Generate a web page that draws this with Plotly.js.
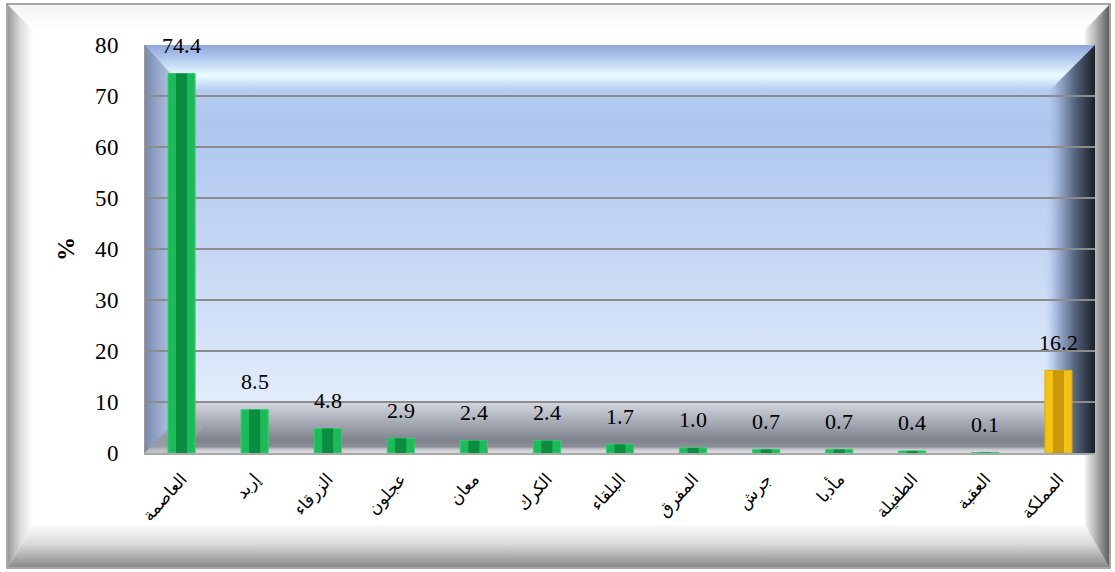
<!DOCTYPE html>
<html>
<head>
<meta charset="utf-8">
<script src="https://cdn.plot.ly/plotly-3.0.1.min.js"></script>
<style>
@font-face { font-family: "ChartSerif"; font-weight: 400;
  src: local("Liberation Serif"), local("LiberationSerif"), local("LiberationSerif-Regular"), local("Times New Roman"), local("DejaVu Serif"), local("DejaVuSerif"); }
@font-face { font-family: "ChartSerif"; font-weight: 700;
  src: local("Liberation Serif Bold"), local("LiberationSerif-Bold"), local("Times New Roman Bold"), local("DejaVu Serif Bold"), local("DejaVuSerif-Bold"); }
html,body{margin:0;padding:0;background:#fff;}
#wrap{position:relative;width:1115px;height:572px;overflow:hidden;}
#frame{position:absolute;left:0;top:0;}
#chart{position:absolute;left:0;top:0;width:1115px;height:572px;}
</style>
</head>
<body>
<div id="wrap">
<svg id="frame" width="1115" height="572" xmlns="http://www.w3.org/2000/svg">
  <defs>
    <linearGradient id="gL" x1="0" y1="0" x2="1" y2="0">
      <stop offset="0" stop-color="#9a9a9a"/><stop offset="0.5" stop-color="#dcdcdc"/><stop offset="1" stop-color="#ffffff"/>
    </linearGradient>
    <linearGradient id="gT" x1="0" y1="0" x2="0" y2="1">
      <stop offset="0" stop-color="#f4f4f4"/><stop offset="1" stop-color="#ffffff"/>
    </linearGradient>
    <linearGradient id="gR" x1="0" y1="0" x2="1" y2="0">
      <stop offset="0" stop-color="#f2f2f2"/><stop offset="0.45" stop-color="#b4b4b4"/><stop offset="1" stop-color="#5e5e5e"/>
    </linearGradient>
    <linearGradient id="gB" x1="0" y1="0" x2="0" y2="1">
      <stop offset="0" stop-color="#fbfbfb"/><stop offset="0.45" stop-color="#dadada"/><stop offset="1" stop-color="#8a8a8a"/>
    </linearGradient>
  </defs>
  <rect x="7" y="4" width="1103" height="564" fill="#ffffff" stroke="#8a8a8a" stroke-width="1.5"/>
  <polygon points="8,5 1109,5 1085,30 33,30" fill="url(#gT)"/>
  <polygon points="8,5 33,30 33,525 8,567" fill="url(#gL)"/>
  <polygon points="8,567 33,525 1085,525 1109,567" fill="url(#gB)"/>
  <polygon points="1109,5 1109,567 1085,525 1085,30" fill="url(#gR)"/>
</svg>
<div id="chart"></div>
</div>
<script>
// ---- data ----
var categories = ["العاصمة","إربد","الزرقاء","عجلون","معان","الكرك","البلقاء","المفرق","جرش","مأدبا","الطفيلة","العقبة","المملكة"];
var values = [74.4, 8.5, 4.8, 2.9, 2.4, 2.4, 1.7, 1.0, 0.7, 0.7, 0.4, 0.1, 16.2];
var yTicks = [0, 10, 20, 30, 40, 50, 60, 70, 80];
var yTitle = "%";

// ---- styles ----
var lightCol = categories.map(function(c, i){ return i === categories.length - 1 ? "#f3c212" : "#1cba58"; });
var darkCol  = categories.map(function(c, i){ return i === categories.length - 1 ? "#c9990b" : "#0b8c41"; });
var edgeCol  = categories.map(function(c, i){ return i === categories.length - 1 ? "#e0aa08" : "#2fcf70"; });

var W = 950, H = 408;
var bgSvg =
 '<svg xmlns="http://www.w3.org/2000/svg" width="'+W+'" height="'+H+'" viewBox="0 0 '+W+' '+H+'" preserveAspectRatio="none">' +
 '<defs>' +
 '<linearGradient id="back" x1="0" y1="0" x2="0" y2="1">' +
   '<stop offset="0" stop-color="#8ea6da"/><stop offset="0.035" stop-color="#b4cbf0"/>' +
   '<stop offset="0.075" stop-color="#eafeff"/><stop offset="0.11" stop-color="#b6cdf1"/>' +
   '<stop offset="0.2" stop-color="#aec6ef"/><stop offset="0.88" stop-color="#e2ecfb"/>' +
 '</linearGradient>' +
 '<linearGradient id="floor" x1="0" y1="0" x2="0" y2="1">' +
   '<stop offset="0" stop-color="#d4d7de"/><stop offset="0.3" stop-color="#b2b6c0"/>' +
   '<stop offset="0.75" stop-color="#7f838d"/><stop offset="0.88" stop-color="#8c9099"/>' +
   '<stop offset="0.93" stop-color="#c9cacf"/><stop offset="1" stop-color="#dcdcdc"/>' +
 '</linearGradient>' +
 '<linearGradient id="lw" x1="0" y1="0" x2="1" y2="0">' +
   '<stop offset="0" stop-color="#7a8aac"/><stop offset="1" stop-color="#b3c5e8"/>' +
 '</linearGradient>' +
 '<linearGradient id="rw" x1="0" y1="0" x2="1" y2="0">' +
   '<stop offset="0" stop-color="#b6ccf0" stop-opacity="0"/><stop offset="0.25" stop-color="#9fb2d6"/>' +
   '<stop offset="0.6" stop-color="#56637d"/><stop offset="1" stop-color="#1a1f27"/>' +
 '</linearGradient>' +
 '</defs>' +
 '<rect x="0" y="0" width="'+W+'" height="'+H+'" fill="url(#back)"/>' +
 '<rect x="0" y="357" width="'+W+'" height="51" fill="url(#floor)"/>' +
 '<polygon points="0,0 27,30 27,380 0,408" fill="url(#lw)"/>' +
 '<polygon points="0,408 27,380 60,380 35,408" fill="#a9adb6" opacity="0.5"/>' +
 '<polygon points="'+W+',0 '+(W-50)+',50 '+(W-50)+','+H+' '+W+','+H+'" fill="url(#rw)"/>' +
 '</svg>';
var bgUri = 'data:image/svg+xml;charset=utf-8,' + encodeURIComponent(bgSvg);

var serif = "ChartSerif, Liberation Serif, serif";
var arabicFont = "DejaVu Sans";

var traceOuter = {
  type: "bar", x: categories, y: values, width: 0.37,
  marker: {color: lightCol, line: {color: edgeCol, width: 1}},
  hoverinfo: "skip", showlegend: false
};
var traceInner = {
  type: "bar", x: categories, y: values, width: 0.15,
  marker: {color: darkCol, line: {width: 0}},
  hoverinfo: "skip", showlegend: false
};

var annotations = categories.map(function(c, i){
  return {
    x: c, y: values[i], xref: "x", yref: "y",
    text: values[i].toFixed(1), showarrow: false,
    yanchor: "middle", yshift: 28,
    font: {family: serif, size: 22, color: "#000"}
  };
});

var layout = {
  width: 1115, height: 572,
  margin: {l: 145, r: 20, t: 45, b: 119},
  paper_bgcolor: "rgba(0,0,0,0)",
  plot_bgcolor: "rgba(0,0,0,0)",
  barmode: "overlay",
  showlegend: false,
  font: {family: serif},
  xaxis: {
    type: "category",
    tickangle: -48,
    tickfont: {family: arabicFont, size: 17, color: "#000"},
    showgrid: false,
    showline: true, linecolor: "#a8a8a8", linewidth: 1.5,
    ticks: "outside", ticklen: 8, tickcolor: "rgba(0,0,0,0)",
    fixedrange: true
  },
  yaxis: {
    range: [0, 80],
    tickvals: yTicks,
    tickfont: {family: serif, size: 23, color: "#000"},
    showgrid: true, gridcolor: "#8c8c8c", gridwidth: 1.5,
    zeroline: false,
    showline: true, linecolor: "#9a9a9a", linewidth: 1,
    ticks: "outside", ticklen: 20, tickcolor: "rgba(0,0,0,0)",
    title: {text: yTitle, font: {family: serif, size: 24, color: "#000", weight: "bold"}, standoff: 14},
    fixedrange: true
  },
  images: [{
    source: bgUri, xref: "paper", yref: "paper",
    x: 0, y: 1, sizex: 1, sizey: 1, xanchor: "left", yanchor: "top",
    sizing: "stretch", layer: "below"
  }],
  annotations: annotations
};

function draw(){
  Plotly.newPlot("chart", [traceOuter, traceInner], layout, {displayModeBar: false, staticPlot: true});
}
if (document.fonts && document.fonts.load) {
  Promise.all([document.fonts.load("22px ChartSerif"), document.fonts.load("bold 22px ChartSerif")]).then(draw, draw);
} else { draw(); }
</script>
</body>
</html>
